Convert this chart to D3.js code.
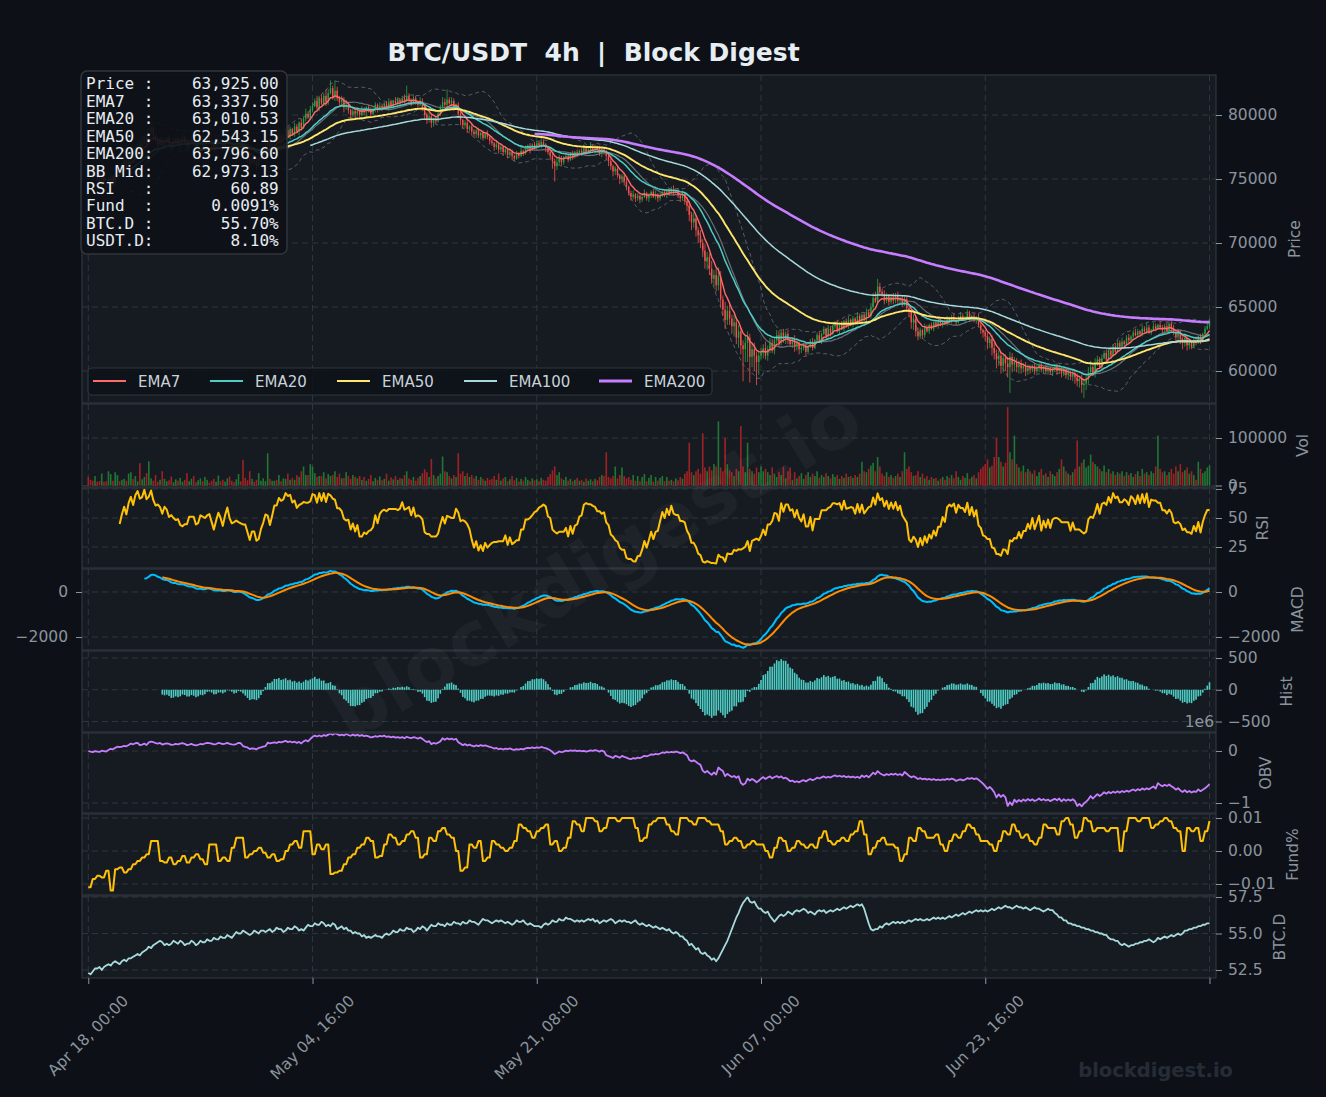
<!DOCTYPE html>
<html>
<head>
<meta charset="utf-8">
<script src="https://cdn.jsdelivr.net/npm/d3@7"></script>
<style>
  body { margin: 0; background: #0d1117; }
  svg { display: block; font-family: "DejaVu Sans", sans-serif; }
</style>
</head>
<body>
<svg id="chart" width="1326" height="1097"></svg>
<script>
// ---- data (4h candles from Apr 18 00:00) ----
// close in hundreds of USD
const closeH = [
  760,757,753,756,750,747,751,746,744,748,752,747,755,758,754,761,765,760,767,771,
  766,773,777,772,779,783,778,786,790,784,781,777,780,776,779,782,778,775,779,781,
  777,780,783,779,776,778,781,777,774,778,780,776,779,783,780,777,774,777,780,778,
  775,779,782,778,776,773,777,780,776,772,769,766,763,767,764,761,765,769,772,776,
  779,774,778,783,780,784,779,785,788,783,789,785,791,787,794,790,797,801,798,804,
  807,811,806,813,809,815,810,817,821,814,819,813,810,812,806,808,804,800,803,801,
  803,800,804,802,806,803,801,805,808,804,807,805,809,806,810,807,811,809,812,810,
  813,811,815,812,809,813,810,808,811,806,800,796,799,794,797,795,801,806,810,808,
  812,809,811,806,808,801,796,792,794,789,791,787,785,788,784,786,782,785,783,780,
  778,775,777,773,775,771,773,769,771,768,766,770,768,772,770,774,776,773,777,775,
  778,776,779,777,774,771,768,764,760,763,766,763,767,768,765,770,767,771,769,772,
  770,774,771,773,776,772,775,773,770,773,771,768,764,760,756,758,753,750,752,748,
  744,739,736,738,735,737,734,736,739,735,737,740,736,738,735,737,740,738,741,739,
  742,739,741,737,735,738,733,729,722,716,719,710,706,700,694,686,689,680,672,675,
  667,674,656,648,640,647,641,635,638,626,631,620,617,622,626,611,617,612,607,612,
  614,618,612,617,622,616,624,628,622,630,625,629,624,621,625,619,622,617,618,620,
  615,619,623,618,624,628,623,629,633,627,633,629,635,637,631,637,633,639,635,640,
  636,641,638,643,639,644,640,646,643,650,657,654,666,662,660,655,659,654,658,655,
  659,655,657,653,656,649,646,638,641,631,627,632,628,634,631,636,633,638,635,639,
  636,639,637,641,639,642,640,638,641,643,640,642,645,641,643,640,642,636,632,630,
  627,622,625,618,614,609,612,604,610,606,603,611,605,607,603,606,602,604,600,603,
  601,604,600,602,605,601,603,600,602,599,601,604,600,602,598,601,597,599,596,598,
  595,592,594,589,590,594,599,603,598,606,609,603,610,614,609,616,612,619,615,622,
  619,623,621,626,624,627,630,628,631,629,633,631,634,630,632,635,633,636,634,632,
  635,631,637,633,630,627,631,625,622,626,620,623,619,624,622,627,623,629,633,635,639
];
// upper / lower wick beyond the body, hundreds of USD
const wickUp = [
  2,1,3,1,2,4,1,2,1,3,2,1,2,3,1,2,1,2,3,1,
  2,3,1,2,4,1,2,3,5,2,1,2,1,3,2,1,2,1,3,2,
  1,2,3,1,2,1,2,1,3,2,1,2,1,2,3,1,2,1,2,1,
  2,1,3,2,1,2,1,2,1,3,1,2,1,2,1,3,2,1,2,1,
  2,3,1,2,1,3,2,1,2,3,2,1,3,2,1,3,2,4,2,3,
  3,2,4,2,3,2,5,3,6,2,8,3,2,3,2,4,2,1,3,2,
  2,1,3,2,1,2,3,1,2,1,3,2,1,2,3,2,1,3,2,1,
  2,3,8,2,1,3,2,1,3,2,1,2,3,2,1,2,3,2,4,3,
  8,2,3,2,1,2,3,1,2,2,1,3,2,1,2,1,2,1,3,1,
  2,1,3,1,2,1,2,1,3,2,1,2,1,3,1,2,1,2,1,2,
  2,1,3,2,1,2,1,3,2,4,3,2,1,2,3,1,2,1,2,1,
  2,3,1,2,3,1,2,1,3,2,1,2,3,2,1,2,3,1,2,3,
  2,1,2,3,1,2,1,2,3,1,2,1,2,3,1,2,1,2,1,2,
  2,3,1,2,1,3,2,3,4,2,5,3,2,4,3,5,4,3,6,4,
  5,7,4,3,6,4,5,3,6,4,5,3,4,6,5,3,4,5,3,4,
  4,3,5,3,4,3,2,4,3,2,3,2,3,2,1,3,2,1,3,2,
  2,1,2,3,1,2,3,1,2,1,3,2,1,2,3,1,2,1,2,3,
  1,2,1,3,2,1,2,3,2,3,4,5,6,3,2,3,2,1,2,3,
  2,3,1,2,3,2,3,2,3,2,3,2,1,3,2,1,2,1,2,1,
  2,1,3,2,1,2,3,1,2,3,2,1,3,2,1,2,1,3,2,1,
  2,3,2,3,4,3,4,3,4,3,5,4,3,4,3,2,3,2,3,2,
  2,1,2,3,1,2,1,2,3,1,2,1,2,3,1,2,1,2,1,2,
  2,3,2,3,4,3,4,5,3,4,3,2,3,2,3,2,3,2,3,2,
  2,3,1,2,3,1,2,3,2,1,3,2,4,2,1,3,2,1,3,2,
  2,3,1,2,3,1,2,1,2,3,1,2,1,2,3,1,2,1,2,3,2
];
const wickDn = [
  1,2,3,2,4,2,3,1,5,2,1,3,2,1,2,3,1,2,1,2,
  3,1,2,4,1,2,3,1,2,3,2,4,1,2,3,1,2,3,1,2,
  1,3,2,1,2,3,1,2,3,1,2,1,3,2,1,2,3,1,2,1,
  2,1,2,3,1,2,3,1,2,3,2,3,4,2,3,4,2,1,2,1,
  2,3,1,2,1,2,3,1,2,1,2,1,2,1,3,2,1,2,1,2,
  2,1,2,3,1,2,3,2,1,2,3,2,3,2,4,2,3,4,2,3,
  2,3,1,2,3,1,2,1,3,2,1,2,1,2,3,1,2,1,2,3,
  1,2,1,3,2,1,2,3,1,3,4,3,2,4,3,2,1,2,1,2,
  2,1,2,3,2,3,4,3,2,3,2,3,2,3,2,3,2,1,2,3,
  2,3,2,3,2,3,2,3,2,3,2,1,2,1,2,1,2,3,1,2,
  2,1,2,1,3,2,3,6,12,3,2,3,2,1,2,1,2,1,2,1,
  2,1,2,1,3,1,2,1,2,3,2,3,4,3,4,3,2,4,3,3,
  3,2,3,2,3,2,3,2,1,2,3,2,1,2,3,2,1,2,3,2,
  1,2,1,2,3,2,3,4,5,6,4,5,6,4,5,6,7,5,4,6,
  5,4,6,5,7,4,5,6,8,5,8,7,25,10,15,20,8,12,18,10,
  3,4,3,4,3,2,3,2,3,2,3,4,3,2,3,4,3,4,3,2,
  3,2,1,2,1,2,1,2,1,2,1,2,1,2,1,2,1,2,1,2,
  1,2,1,2,1,2,1,2,1,2,2,1,2,3,2,3,2,3,2,3,
  2,3,2,3,2,3,4,5,6,4,3,2,3,2,1,2,1,2,1,2,
  1,2,1,2,1,2,1,2,1,2,1,2,1,2,1,2,3,2,3,4,
  4,5,4,6,5,7,5,6,5,6,8,20,6,5,4,5,4,3,4,3,
  3,2,3,2,3,2,3,2,3,2,3,2,3,2,3,2,3,4,3,4,
  5,4,5,6,10,5,4,3,2,3,2,1,2,1,2,1,2,1,2,1,
  2,1,2,1,2,1,2,1,2,1,2,1,2,1,2,1,2,1,2,3,
  2,1,2,3,2,4,3,4,5,3,4,3,2,1,2,1,2,1,2,1,2
];
// volume in thousands
const volK = [
  18,12,10,20,8,9,25,8,9,30,24,10,28,22,9,12,14,10,25,28,
  14,20,9,47,13,18,26,51,15,10,22,8,12,30,14,9,11,19,7,13,
  10,16,8,12,26,9,14,20,7,11,15,9,18,12,6,10,14,8,21,9,
  12,8,15,19,10,7,13,24,9,54,16,11,30,14,8,12,26,10,15,9,
  68,14,10,10,12,22,9,15,14,25,12,16,12,22,18,30,40,22,22,45,
  40,26,18,20,20,28,15,24,20,22,30,18,25,15,16,28,20,14,22,18,
  15,20,12,18,10,14,22,9,16,12,19,11,14,25,10,17,13,20,12,16,
  14,22,30,15,12,18,10,16,20,26,34,28,18,56,22,15,20,25,61,30,
  28,20,15,22,18,68,25,30,20,26,18,22,15,20,12,18,14,10,16,12,
  14,20,12,25,10,15,18,9,13,20,11,16,8,14,10,18,12,9,15,11,
  13,9,16,12,10,18,24,32,40,22,28,15,12,18,10,14,9,12,16,10,
  12,8,15,10,13,9,14,11,18,22,20,70,18,15,20,40,15,22,38,20,
  15,18,12,22,10,20,9,18,24,9,16,22,8,18,10,16,20,9,18,10,
  12,9,15,11,18,14,25,30,90,28,22,30,35,25,110,38,30,40,32,45,
  40,135,38,30,100,45,32,28,20,35,30,125,40,28,90,35,30,25,38,28,
  40,30,35,28,22,38,25,18,28,22,40,15,30,38,12,28,15,20,26,14,
  22,28,18,25,20,30,16,22,18,26,20,15,24,18,22,14,20,16,25,18,
  20,16,22,18,25,50,30,28,35,42,48,30,60,40,25,20,28,18,22,16,
  20,25,18,30,70,35,40,28,20,22,30,18,25,15,20,12,18,14,16,10,
  14,18,12,20,16,22,15,30,18,12,20,16,26,14,18,22,15,28,35,40,
  45,55,38,42,60,100,60,50,40,48,165,70,55,105,45,38,30,42,28,35,
  30,25,32,20,28,35,22,26,18,30,24,20,28,35,55,40,30,25,22,28,
  35,95,40,48,55,38,42,65,50,45,40,35,30,42,28,35,25,30,22,28,
  25,30,20,28,22,26,18,24,30,20,35,25,28,22,30,26,40,105,35,28,
  30,22,28,35,25,40,30,45,28,32,38,25,30,22,12,50,35,26,30,38,42
];
// funding rate per 8h period, in 1e-4 %
const fund8h = [
  -110,-85,-75,-80,-60,-120,-55,-50,-65,-55,
  -40,-30,-20,-10,30,30,-30,-35,-20,-40,
  -30,-15,-35,-20,-10,-25,-40,20,20,-30,
  -20,-30,10,40,40,-20,-10,0,10,-5,
  -20,-10,-30,-25,0,20,30,10,60,60,
  -10,20,5,20,-70,-65,-60,-40,-20,-10,
  10,20,40,30,-20,-15,20,50,40,20,
  30,50,60,40,-20,-10,40,30,60,70,
  50,40,0,-60,-50,20,10,30,-30,-20,
  30,20,10,0,10,30,80,70,60,40,
  60,70,80,20,30,0,10,40,90,80,
  60,100,100,90,60,70,100,100,90,100,
  100,100,70,30,40,80,90,100,100,80,
  60,50,100,100,90,80,100,100,90,80,
  80,60,20,30,40,30,10,20,30,20,
  20,0,-20,10,40,30,0,10,30,20,
  10,20,10,40,60,30,20,30,40,30,
  50,60,90,50,-10,10,30,40,20,20,
  10,-30,-10,40,30,70,60,40,40,50,
  20,0,30,50,40,60,80,70,50,30,
  30,20,0,30,60,50,80,60,40,50,
  30,20,40,80,70,70,50,90,100,80,
  40,60,100,90,60,70,70,60,70,70,
  0,60,100,100,90,100,100,70,80,90,
  100,90,70,60,0,70,60,70,30,60,91
];
// BTC dominance, tenths of %
const btcDom = [
  523,522,524,526,526,527,525,527,528,529,528,530,531,530,529,531,532,531,533,533,
  534,535,536,535,537,538,539,541,540,542,543,544,545,544,542,543,542,543,545,544,
  543,545,544,542,543,543,545,544,542,543,545,544,544,546,545,545,547,546,546,548,
  547,547,549,548,547,549,551,550,550,552,551,550,549,550,552,551,550,552,552,551,
  552,553,551,552,554,553,553,551,552,554,553,553,555,554,552,553,552,554,556,555,
  555,557,556,556,558,557,555,556,555,557,556,553,554,555,553,554,552,552,550,551,
  550,550,548,549,547,548,547,548,549,548,548,547,549,550,549,550,552,551,551,553,
  552,552,554,553,553,551,552,554,553,555,554,552,554,556,555,555,557,556,556,555,
  557,556,556,558,557,557,556,558,557,557,559,558,558,557,556,558,560,559,559,558,
  557,558,559,558,559,558,557,558,557,556,557,559,558,558,559,557,556,557,556,555,
  555,555,554,556,557,556,557,559,558,558,560,559,559,561,560,560,559,558,559,558,
  559,558,559,560,559,560,558,559,557,558,559,558,559,560,559,557,558,559,558,559,
  558,558,557,558,559,557,556,557,556,555,556,555,554,555,554,553,554,553,552,553,
  551,550,551,550,548,548,546,545,542,543,541,539,540,537,536,537,535,534,532,533,
  531,533,536,539,542,545,549,553,557,561,564,568,571,573,575,572,571,572,569,567,
  567,565,564,565,562,560,558,560,562,563,562,563,565,564,563,565,566,565,566,567,
  566,564,565,564,563,565,566,565,566,564,565,566,565,566,567,566,567,568,567,568,
  569,568,569,570,569,570,567,562,557,553,552,553,553,555,554,556,557,556,557,558,
  557,558,557,558,557,558,559,558,559,560,559,560,559,559,560,559,560,561,560,561,
  560,561,560,561,562,561,562,563,562,563,564,563,564,565,564,565,566,565,566,565,
  566,565,566,567,566,567,568,567,568,569,568,568,567,568,569,568,568,567,568,567,
  566,567,568,567,567,566,565,566,567,566,566,564,563,561,561,559,559,557,557,556,
  556,555,555,554,554,553,553,552,552,551,551,550,550,549,549,547,546,546,545,545,
  543,542,543,542,541,542,542,543,543,544,544,545,545,546,545,544,545,547,546,547,
  548,547,548,549,548,549,550,549,550,552,552,553,553,554,554,555,555,556,556,557,557
];
const xTickIdx = [0, 100, 200, 300, 400, 500];
const infoRows = [
  ["Price ", "63,925.00"], ["EMA7  ", "63,337.50"], ["EMA20 ", "63,010.53"],
  ["EMA50 ", "62,543.15"], ["EMA200", "63,796.60"], ["BB Mid", "62,973.13"],
  ["RSI   ", "60.89"], ["Fund  ", "0.0091%"], ["BTC.D ", "55.70%"], ["USDT.D", "8.10%"]
];
const emaSpans = [7, 20, 50, 100, 200];
const emaColors = ["#ff6b6b", "#4ecdc4", "#ffe66d", "#a8dadc", "#c77dff"];
const emaWidths = [1.4, 1.5, 1.9, 1.5, 2.6];

// ---- derived series ----
const n = closeH.length;
const t0 = Date.UTC(2024, 3, 18, 0, 0);
const dates = d3.range(n).map(i => new Date(t0 + i * 4 * 3600e3));
const close = closeH.map(v => v * 100);
const open = close.map((c, i) => i ? close[i - 1] : 76150);
const high = close.map((c, i) => Math.max(c, open[i]) + wickUp[i] * 100);
const low = close.map((c, i) => Math.min(c, open[i]) - wickDn[i] * 100);
const volume = volK.map(v => v * 1000);
const fund = d3.range(n).map(i => fund8h[Math.floor(i / 2)] / 10000);
const dom = btcDom.map(v => v / 10);

function ema(src, span) {
  const k = 2 / (span + 1);
  let prev = null, seen = 0;
  return src.map(v => {
    if (v == null) return null;
    prev = prev == null ? v : prev + k * (v - prev);
    seen++;
    return seen >= span ? prev : null;
  });
}
function rolling(src, w, fn) {
  return src.map((v, i) => i < w - 1 ? null : fn(src.slice(i - w + 1, i + 1)));
}
const emas = emaSpans.map(s => ema(close, s));
const bbMid = rolling(close, 20, d3.mean);
const bbSd = rolling(close, 20, d3.deviation);
const bbUp = bbMid.map((m, i) => m == null ? null : m + 2 * bbSd[i]);
const bbLo = bbMid.map((m, i) => m == null ? null : m - 2 * bbSd[i]);

const gain = close.map((c, i) => i ? Math.max(c - close[i - 1], 0) : 0);
const loss = close.map((c, i) => i ? Math.max(close[i - 1] - c, 0) : 0);
const rsi = close.map((c, i) => {
  if (i < 14) return null;
  const g = d3.mean(gain.slice(i - 13, i + 1)), l = d3.mean(loss.slice(i - 13, i + 1));
  return l === 0 ? 100 : 100 - 100 / (1 + g / l);
});
const e12 = ema(close, 12), e26 = ema(close, 26);
const macd = close.map((c, i) => e26[i] == null ? null : e12[i] - e26[i]);
const signal = ema(macd, 9);
const hist = macd.map((m, i) => signal[i] == null ? null : m - signal[i]);
const obv = [0];
for (let i = 1; i < n; i++) obv.push(obv[i - 1] + Math.sign(close[i] - close[i - 1]) * volume[i]);

// ---- layout ----
const W = 1326, H = 1097, L = 82, R = 1216;
const C = { fig: "#0d1117", ax: "#161b22", grid: "#30363d", spine: "#30363d", txt: "#8b949e" };
const svg = d3.select("#chart");
svg.append("rect").attr("width", W).attr("height", H).attr("fill", C.fig);

const x = d3.scaleLinear().domain([-2.8, 502.9]).range([L, R]);
const fmtPlain = d => d3.format("d")(d);
const panels = [
  { id: "price", top: 75, bottom: 403, domain: [57500, 83125], ticks: [60000, 65000, 70000, 75000, 80000], fmt: fmtPlain, label: "Price", lx: 1295 },
  { id: "vol", top: 404, bottom: 487, domain: [-3160, 171600], ticks: [0, 100000], fmt: fmtPlain, label: "Vol", lx: 1303 },
  { id: "rsi", top: 488, bottom: 568, domain: [6.9, 75.86], ticks: [25, 50, 75], fmt: fmtPlain, label: "RSI", lx: 1263 },
  { id: "macd", top: 569, bottom: 650, domain: [-2578, 1022], ticks: [-2000, 0], fmt: d3.format("d"), label: "MACD", lx: 1298, left: true },
  { id: "hist", top: 651, bottom: 732, domain: [-665, 610], ticks: [-500, 0, 500], fmt: d3.format("d"), label: "Hist", lx: 1287 },
  { id: "obv", top: 733, bottom: 813, domain: [-1.192e6, 0.346e6], ticks: [-1e6, 0], fmt: d => d3.format("d")(d / 1e6), label: "OBV", lx: 1266 },
  { id: "fund", top: 814, bottom: 895, domain: [-0.01333, 0.01121], ticks: [-0.01, 0, 0.01], fmt: d3.format(".2f"), label: "Fund%", lx: 1293 },
  { id: "btcd", top: 896, bottom: 978, domain: [51.95, 57.57], ticks: [52.5, 55, 57.5], fmt: d3.format(".1f"), label: "BTC.D", lx: 1280 }
];
const P = {};
panels.forEach(p => {
  p.y = d3.scaleLinear().domain(p.domain).range([p.bottom, p.top]);
  P[p.id] = p;
  const g = svg.append("g").attr("class", "panel-" + p.id);
  g.append("rect").attr("x", L).attr("y", p.top).attr("width", R - L).attr("height", p.bottom - p.top).attr("fill", C.ax);
  svg.append("clipPath").attr("id", "clip-" + p.id)
    .append("rect").attr("x", L).attr("y", p.top).attr("width", R - L).attr("height", p.bottom - p.top);
  // grid
  g.append("g").selectAll("line").data(p.ticks).join("line")
    .attr("x1", L).attr("x2", R).attr("y1", d => p.y(d)).attr("y2", d => p.y(d))
    .attr("stroke", C.grid).attr("stroke-width", 1).attr("stroke-dasharray", "6,4");
  g.append("g").selectAll("line").data(xTickIdx).join("line")
    .attr("x1", d => x(d)).attr("x2", d => x(d)).attr("y1", p.top).attr("y2", p.bottom)
    .attr("stroke", C.grid).attr("stroke-width", 1).attr("stroke-dasharray", "6,4");
  p.plot = g.append("g").attr("clip-path", `url(#clip-${p.id})`);
  p.g = g;
});

const line = (arr, ys) => d3.line().defined(d => d != null).x((d, i) => x(i)).y(d => ys(d))(arr);
function addLine(p, arr, color, width, dash, opacity) {
  p.plot.append("path").attr("d", line(arr, p.y)).attr("fill", "none")
    .attr("stroke", color).attr("stroke-width", width)
    .attr("stroke-dasharray", dash || null).attr("stroke-opacity", opacity == null ? 1 : opacity)
    .attr("stroke-linejoin", "round");
}

// price panel
const pp = P.price;
addLine(pp, bbUp, "#8b949e", 1, "4,3", 0.55);
addLine(pp, bbLo, "#8b949e", 1, "4,3", 0.55);
addLine(pp, bbMid, "#8b949e", 1.2, null, 0.7);
const up = i => close[i] >= open[i];
pp.plot.append("g").selectAll("line").data(d3.range(n)).join("line")
  .attr("x1", i => x(i)).attr("x2", i => x(i))
  .attr("y1", i => pp.y(high[i])).attr("y2", i => pp.y(low[i]))
  .attr("stroke", i => up(i) ? "#2ea043" : "#f85149").attr("stroke-width", 0.8);
pp.plot.append("g").selectAll("rect").data(d3.range(n)).join("rect")
  .attr("x", i => x(i) - 0.7).attr("width", 1.4)
  .attr("y", i => pp.y(Math.max(open[i], close[i])))
  .attr("height", i => Math.max(1, Math.abs(pp.y(open[i]) - pp.y(close[i]))))
  .attr("fill", i => up(i) ? "#2ea043" : "#f85149");
emas.forEach((e, k) => addLine(pp, e, emaColors[k], emaWidths[k]));

// volume
const pv = P.vol;
pv.plot.append("g").selectAll("rect").data(d3.range(n)).join("rect")
  .attr("x", i => x(i) - 0.8).attr("width", 1.6)
  .attr("y", i => pv.y(volume[i])).attr("height", i => pv.y(0) - pv.y(volume[i]))
  .attr("fill", i => up(i) ? "#238636" : "#b62324").attr("fill-opacity", 0.85);

// oscillators
addLine(P.rsi, rsi, "#ffc107", 2);
addLine(P.macd, macd, "#00bfff", 2);
addLine(P.macd, signal, "#ff8c00", 2);
const ph = P.hist;
ph.plot.append("g").selectAll("rect").data(d3.range(n).filter(i => hist[i] != null)).join("rect")
  .attr("x", i => x(i) - 0.8).attr("width", 1.6)
  .attr("y", i => ph.y(Math.max(0, hist[i])))
  .attr("height", i => Math.abs(ph.y(hist[i]) - ph.y(0)))
  .attr("fill", "#4ecdc4");
addLine(P.obv, obv, "#c77dff", 1.8);
addLine(P.fund, fund, "#ffc107", 2);
addLine(P.btcd, dom, "#a8dadc", 1.8);

// axes, frames, labels
panels.forEach(p => {
  p.g.append("rect").attr("x", L).attr("y", p.top).attr("width", R - L).attr("height", p.bottom - p.top)
    .attr("fill", "none").attr("stroke", C.spine).attr("stroke-width", 1.2);
  p.g.append("g").attr("transform", `translate(${R},0)`)
    .call(d3.axisRight(p.y).tickValues(p.ticks).tickFormat(p.fmt).tickSize(6).tickPadding(6));
  if (p.left) {
    p.g.append("g").attr("transform", `translate(${L},0)`)
      .call(d3.axisLeft(p.y).tickValues(p.ticks).tickFormat(p.fmt).tickSize(6).tickPadding(8));
  }
  p.g.selectAll(".domain").remove();
  p.g.selectAll(".tick line").attr("stroke", C.txt);
  p.g.selectAll(".tick text").attr("fill", C.txt).attr("font-size", 15.5).attr("font-family", "DejaVu Sans");
  p.g.append("text").attr("transform", `translate(${p.lx},${(p.top + p.bottom) / 2}) rotate(-90)`)
    .attr("text-anchor", "middle").attr("dominant-baseline", "central")
    .attr("fill", C.txt).attr("font-size", 15.5).text(p.label);
});
svg.append("text").attr("x", 1214).attr("y", 727).attr("text-anchor", "end")
  .attr("fill", C.txt).attr("font-size", 15.5).text("1e6");

// x axis
const xb = P.btcd.bottom;
svg.append("g").attr("transform", `translate(0,${xb})`)
  .call(d3.axisBottom(x).tickValues(xTickIdx).tickFormat("").tickSize(6))
  .call(g => g.select(".domain").remove())
  .call(g => g.selectAll(".tick line").attr("stroke", C.txt));
const fmtDate = d3.utcFormat("%b %d, %H:%M");
xTickIdx.filter(i => i < n - 1).forEach(i => {
  const t = svg.append("text").attr("fill", C.txt).attr("font-size", 15.5)
    .attr("text-anchor", "middle").attr("dominant-baseline", "central").text(fmtDate(dates[i]));
  const len = t.node().getComputedTextLength();
  const cy = 993 + (len + 15) / (2 * Math.SQRT2);
  t.attr("transform", `translate(${x(i)},${cy}) rotate(-45)`);
});

// watermarks
svg.append("text").attr("transform", "translate(595,565) rotate(-31)")
  .attr("text-anchor", "middle").attr("dominant-baseline", "central")
  .attr("font-size", 76).attr("font-weight", "bold").attr("fill", "#ffffff").attr("fill-opacity", 0.035)
  .text("blockdigest.io");
svg.append("text").attr("x", 1233).attr("y", 1077).attr("text-anchor", "end")
  .attr("font-size", 19.5).attr("font-weight", "bold").attr("fill", "#262c36")
  .text("blockdigest.io");

// title
svg.append("text").attr("x", 593.5).attr("y", 61).attr("text-anchor", "middle")
  .attr("font-size", 25).attr("font-weight", "bold").attr("fill", "#e6edf3")
  .style("white-space", "pre").text("BTC/USDT  4h  |  Block Digest");

// legend
const lg = svg.append("g");
lg.append("rect").attr("x", 88).attr("y", 368).attr("width", 624).attr("height", 27).attr("rx", 4)
  .attr("fill", "#0d1117").attr("fill-opacity", 0.85).attr("stroke", "#30363d").attr("stroke-width", 1.2);
const legX = [93, 210, 337, 464, 599];
emaSpans.forEach((s, k) => {
  lg.append("line").attr("x1", legX[k]).attr("x2", legX[k] + 33).attr("y1", 381).attr("y2", 381)
    .attr("stroke", emaColors[k]).attr("stroke-width", k === 4 ? 3 : 2.2);
  lg.append("text").attr("x", legX[k] + 45).attr("y", 386.5).attr("fill", "#c9d1d9")
    .attr("font-size", 15).text("EMA" + s);
});

// info box
const ib = svg.append("g");
ib.append("rect").attr("x", 81).attr("y", 71).attr("width", 206).attr("height", 183).attr("rx", 6)
  .attr("fill", "#0d1117").attr("fill-opacity", 0.9).attr("stroke", "#30363d").attr("stroke-width", 1.5);
infoRows.forEach(([k, v], r) => {
  ib.append("text").attr("x", 86).attr("y", 89.3 + r * 17.45)
    .attr("font-family", "DejaVu Sans Mono").attr("font-size", 16).attr("fill", "#e6edf3")
    .style("white-space", "pre").text(k + ":" + v.padStart(13, " "));
});
</script>
</body>
</html>
